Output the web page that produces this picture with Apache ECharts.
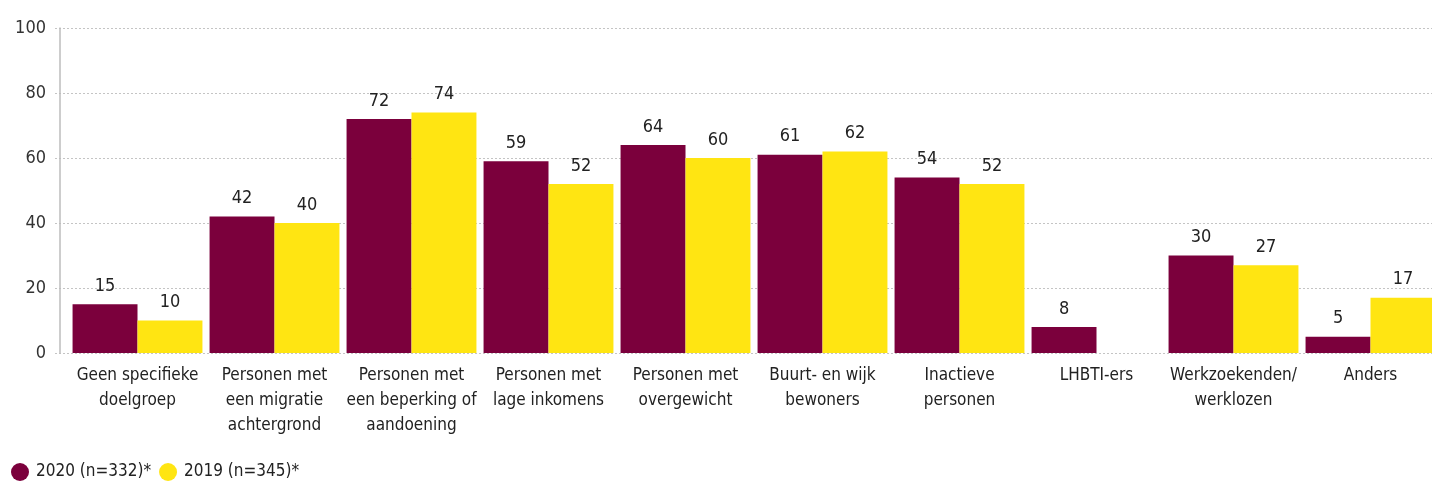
<!DOCTYPE html>
<html>
<head>
<meta charset="utf-8">
<script src="https://cdn.jsdelivr.net/npm/echarts@6/dist/echarts.min.js"></script>
<style>
html,body{margin:0;padding:0;background:#fff;overflow:hidden;}
#chart{width:1440px;height:484px;}
</style>
</head>
<body>
<div id="chart"></div>
<script>
const categories = ["Geen specifieke\ndoelgroep","Personen met\neen migratie\nachtergrond","Personen met\neen beperking of\naandoening","Personen met\nlage inkomens","Personen met\novergewicht","Buurt- en wijk\nbewoners","Inactieve\npersonen","LHBTI-ers","Werkzoekenden/\nwerklozen","Anders"];
const values2020 = [15,42,72,59,64,61,54,8,30,5];
const values2019 = [10,40,74,52,60,62,52,null,27,17];
const seriesNames = ["2020 (n=332)*","2019 (n=345)*"];
const yTicks = [0,20,40,60,80,100];

const FONT = '"DejaVu Sans Condensed",sans-serif';
const chart = echarts.init(document.getElementById('chart'));
chart.setOption({
  animation:false,
  textStyle:{fontFamily:FONT},
  legend:{
    left:11, bottom:3, padding:0, icon:'circle', itemWidth:18, itemHeight:18, itemGap:8,
    textStyle:{fontFamily:FONT, fontSize:17, color:'#222', padding:[0,0,0,2]},
    data:seriesNames
  },
  grid:[
    {left:55, right:0, top:28, bottom:131},
    {left:69, width:1370, top:28, bottom:131}
  ],
  xAxis:[
    {type:'category', gridIndex:0, data:categories, show:false},
    {type:'category', gridIndex:1, data:categories,
     axisLine:{show:false}, axisTick:{show:false},
     axisLabel:{interval:0, margin:10, fontFamily:FONT, fontSize:17, lineHeight:25, color:'#222'}}
  ],
  yAxis:[
    {type:'value', gridIndex:0, min:yTicks[0], max:yTicks[yTicks.length-1], interval:20,
     axisLine:{show:false}, axisTick:{show:false},
     axisLabel:{margin:9, fontFamily:FONT, fontSize:18, color:'#333'},
     splitLine:{show:true, lineStyle:{type:[2,2], color:'#c4c4c4', width:1}}},
    {type:'value', gridIndex:1, min:yTicks[0], max:yTicks[yTicks.length-1], interval:20, offset:9,
     axisLine:{show:true, lineStyle:{color:'#bdbdbd', width:1.5}}, axisTick:{show:false},
     axisLabel:{show:false}, splitLine:{show:false}}
  ],
  series:[
    {name:seriesNames[0], type:'bar', xAxisIndex:1, yAxisIndex:1, data:values2020,
     barGap:'0%', barCategoryGap:'5.2%',
     itemStyle:{color:'#7b003c'},
     label:{show:true, position:'top', distance:9, fontFamily:FONT, fontSize:18, color:'#222'}},
    {name:seriesNames[1], type:'bar', xAxisIndex:1, yAxisIndex:1, data:values2019,
     barGap:'0%', barCategoryGap:'5.2%',
     itemStyle:{color:'#ffe512'},
     label:{show:true, position:'top', distance:9, fontFamily:FONT, fontSize:18, color:'#222'}}
  ]
});
</script>
</body>
</html>
